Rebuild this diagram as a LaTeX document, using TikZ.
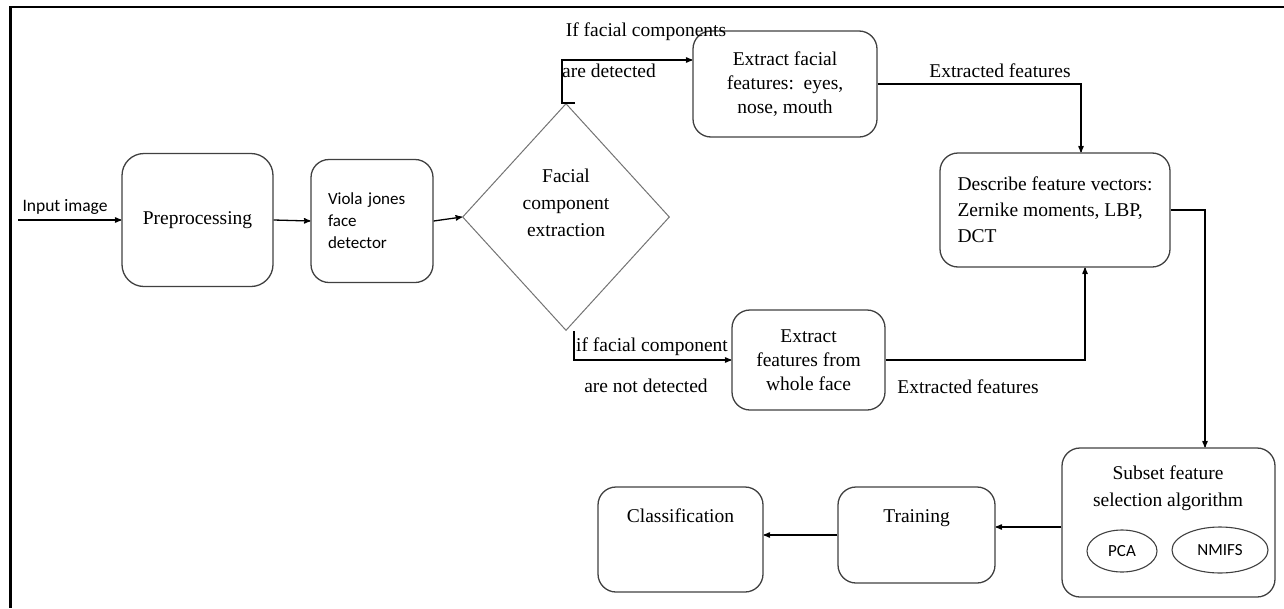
\documentclass[tikz,border=0pt]{standalone}
\usepackage{fontspec}
\setmainfont{Liberation Serif}
\newfontfamily\calib{Carlito}
\usetikzlibrary{arrows,shapes,positioning}
\tikzset{
  %Define standard arrow tip
    >=stealth',
  %define style for boxes
  stage/.style={
    rectangle,
    rounded corners=18pt,
    draw=black!75, line width=1.3pt,
    inner sep=0pt,
    align=center,
    font=\fontsize{19.5}{24}\selectfont},
  %boxes with the text near the top
  stagetop/.style={
    stage,
    text height=35pt},
  %define style for the decision
  decide/.style={
    diamond,
    draw=black!55, line width=1pt,
    inner sep=0pt,
    minimum width=207pt,
    minimum height=227pt},
  oval/.style={
    ellipse,
    draw=black!75, line width=1.1pt,
    inner sep=0pt,
    font=\calib\fontsize{17}{19}\selectfont},
  %define style for labels
  lbl/.style={
    inner sep=0pt,
    align=center,
    font=\fontsize{19.5}{24}\selectfont},
  %define style for arrows
  myarrow/.style={
    ->,
    line width=1.3pt}
}

\begin{document}
\begin{tikzpicture}[x=1pt,y=-1pt]
\useasboundingbox (0,0) rectangle (1284,608);
% frame
\draw[line width=2pt] (10,7) -- (1284,7);
\draw[line width=3pt] (10,6) -- (10,608);

%nodes
\coordinate (start) at (18,220);
\node[lbl, font=\calib\fontsize{17.5}{20}\selectfont] (inlbl) at (65,207) {Input image};
\node[stage, rounded corners=22pt, minimum width=151pt, minimum height=133pt] (pre) at (197.5,220) {Preprocessing};
\node[stage, align=left, text width=88pt, minimum width=122pt, minimum height=123pt,
      font=\calib\fontsize{17}{22}\selectfont] (viola) at (372,221) {Viola jones\\face\\detector};
\node[decide] (fce) at (566,217) {};
\node[lbl, font=\fontsize{19.5}{27}\selectfont] (fcetxt) at (566,203) {Facial\\component\\extraction};

\node[stage, minimum width=184pt, minimum height=106pt] (efacial) at (785,84)
     {Extract facial\\features:\, eyes,\\nose, mouth};
\node[stage, minimum width=153pt, minimum height=100pt] (whole) at (808.5,360)
     {Extract\\features from\\whole face};
\node[stage, align=left, minimum width=230pt, minimum height=114pt,
      font=\fontsize{19.5}{26}\selectfont] (desc) at (1055,210)
     {Describe feature vectors:\\Zernike moments, LBP,\\DCT};

\node[stage, minimum width=213pt, minimum height=149pt] (subset) at (1168.5,522.5) {};
\node[lbl, font=\fontsize{19.5}{27}\selectfont] (subsettxt) at (1168,488) {Subset feature\\selection algorithm};
\node[oval, minimum width=70pt, minimum height=42pt] (pca) at (1122,551) {PCA};
\node[oval, minimum width=96pt, minimum height=46pt] (nmifs) at (1220,550) {NMIFS};

\node[stagetop, minimum width=157pt, text depth=61pt] (training) at (916.5,535) {Training};
\node[stagetop, minimum width=165pt, text depth=70pt] (classif) at (680.5,539.5) {Classification};

%labels
\node[lbl] (yeslbl) at (646,32) {If facial components};
\node[lbl] (yeslbl2) at (609,71) {are detected};
\node[lbl] (nolbl) at (652,347) {if facial component};
\node[lbl] (nolbl2) at (646,386) {are not detected};
\node[lbl] (featlbl) at (1000,71) {Extracted features};
\node[lbl] (featlbl2) at (968,387) {Extracted features};

%arrows
\draw[myarrow] (start) -- (pre.west);
\draw[myarrow] (pre.east) -- (viola.west);
\draw[myarrow] (viola.east) -- (fce.west);
\draw[myarrow] ([xshift=9pt]fce.north) -- ([xshift=-4pt]fce.north) |- ([yshift=24pt]efacial.west);
\draw[myarrow] ([xshift=8pt]fce.south) |- (whole.west);
\draw[myarrow] (efacial.east) -| ([xshift=26pt]desc.north);
\draw[myarrow] (whole.east) -| ([xshift=30pt]desc.south);
\draw[myarrow] (desc.east) -| ([xshift=36.5pt]subset.north);
\draw[myarrow] ([yshift=-4.5pt]subset.west) -- ([yshift=-4.5pt]subset.west -| training.east);
\draw[myarrow] (training.west) -- (training.west -| classif.east);

\end{tikzpicture}
\end{document}
